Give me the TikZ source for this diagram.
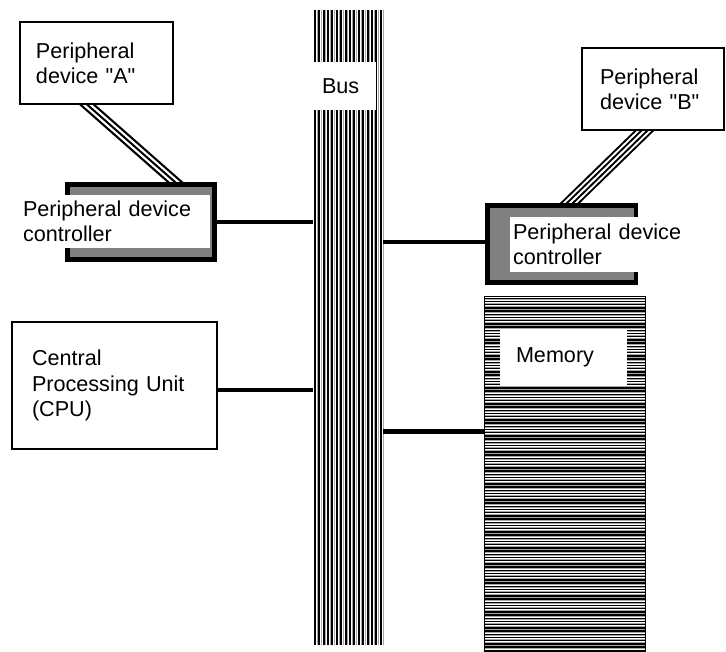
\documentclass[tikz,border=0pt]{standalone}
\usepackage{fontspec}
\setmainfont{Liberation Sans}[Ligatures=TeXOff]
\usetikzlibrary{
    calc,
    backgrounds
}

\tikzset{
    box/.style={draw, line width=1.1pt, fill=white, align=left, inner sep=0pt,
        font=\fontsize{16.2}{19}\selectfont},
    ctrl/.style={draw, line width=3.4pt, fill=gray, inner sep=0pt},
    tag/.style={fill=white, align=left, inner sep=0pt,
        font=\fontsize{16.2}{19}\selectfont},
    link/.style={line width=3.7pt},
    vstripe/.style={line width=1.5pt},
    hstripe/.style={line width=1pt},
    gstripe/.style={line width=0.6pt, gray!70}
}

\begin{document}
\begin{tikzpicture}[x=0.75pt, y=-0.75pt]
\useasboundingbox (0,0) rectangle (726,651);
% bus
\node[inner sep=0pt, minimum width=52.5pt, minimum height=476.25pt] (bus) at (348,327.5) {};
\foreach \i in {0,...,15} {
    \draw[vstripe] ($(bus.north west)+(2+4.4*\i,0)$) -- ($(bus.south west)+(2+4.4*\i,0)$);
    \draw[gstripe] ($(bus.north west)+(4.3+4.4*\i,0)$) -- ($(bus.south west)+(4.3+4.4*\i,0)$);
}
\node[tag, minimum width=47.25pt, minimum height=36pt, text width=33.75pt] (buslabel) at (344.5,86) {Bus};

% memory
\node[inner sep=0pt, minimum width=120pt, minimum height=265.5pt] (mem) at (565,474) {};
\begin{scope}
    \clip (mem.north west) rectangle (mem.south east);
    \foreach \i in {0,...,112} {
        \draw[hstripe] ($(mem.north west)+(0,1.5+3.2*\i)$) -- ++(160,0);
        \draw[gstripe] ($(mem.north west)+(0,3.1+3.2*\i)$) -- ++(160,0);
    }
\end{scope}
\draw[line width=1.1pt] (mem.north west) rectangle (mem.south east);
\node[tag, minimum width=95.25pt, minimum height=41.25pt, text width=71.25pt] (memlabel) at (563.5,357.5) {Memory};

% devices and cpu
\node[box, minimum width=114.75pt, minimum height=61.5pt, text width=90.75pt] (devA) at (96.5,63) {Peripheral\\device "A"};
\node[box, minimum width=106.5pt, minimum height=61.5pt, text width=79.5pt] (devB) at (653,89) {Peripheral\\device "B"};
\node[box, minimum width=153.75pt, minimum height=95.25pt, text width=123.75pt] (cpu) at (114.5,385.5) {Central\\Processing Unit\\(CPU)};

% controllers
\node[ctrl, minimum width=110.6pt, minimum height=56.6pt] (ctrlA) at (141,222) {};
\node[tag, minimum width=142.5pt, minimum height=39.75pt, text width=138pt] (ctrlAlabel) at (115,221.5) {Peripheral device\\controller};
\node[ctrl, minimum width=111.4pt, minimum height=58.1pt] (ctrlB) at (561.5,244) {};
\node[tag, minimum width=135pt, minimum height=41.25pt, text width=130.5pt] (ctrlBlabel) at (600,244.5) {Peripheral device\\controller};

% links to the bus
\coordinate (cpuout) at ($(cpu.east)+(0,4.5)$);
\coordinate (ctrlBin) at ($(ctrlB.west)+(0,-2)$);
\coordinate (memin) at ($(mem.north west)+(0,135)$);
\draw[link] (ctrlA.east) -- (ctrlA.east -| bus.west);
\draw[link] (cpuout) -- (cpuout -| bus.west);
\draw[link] (bus.east |- ctrlBin) -- (ctrlBin);
\draw[link] (bus.east |- memin) -- (memin);

% cables
\coordinate (cabA1) at ($(devA.south west)+(68,0)$);
\coordinate (cabA2) at ($(ctrlA.north west)+(110,0)$);
\coordinate (cabB1) at ($(devB.south west)+(63,0)$);
\coordinate (cabB2) at ($(ctrlB.north west)+(85,0)$);
\begin{pgfonlayer}{background}
    \foreach \w/\c in {8.25pt/black, 4.9pt/white, 1.5pt/black}
        \draw[line width=\w, \c, shorten <=-6pt, shorten >=-6pt] (cabA1) -- (cabA2);
    \foreach \w/\c in {10.5pt/black, 7.5pt/white, 4.5pt/black, 1.5pt/white}
        \draw[line width=\w, \c, shorten <=-6pt, shorten >=-6pt] (cabB1) -- (cabB2);
\end{pgfonlayer}
\end{tikzpicture}
\end{document}
